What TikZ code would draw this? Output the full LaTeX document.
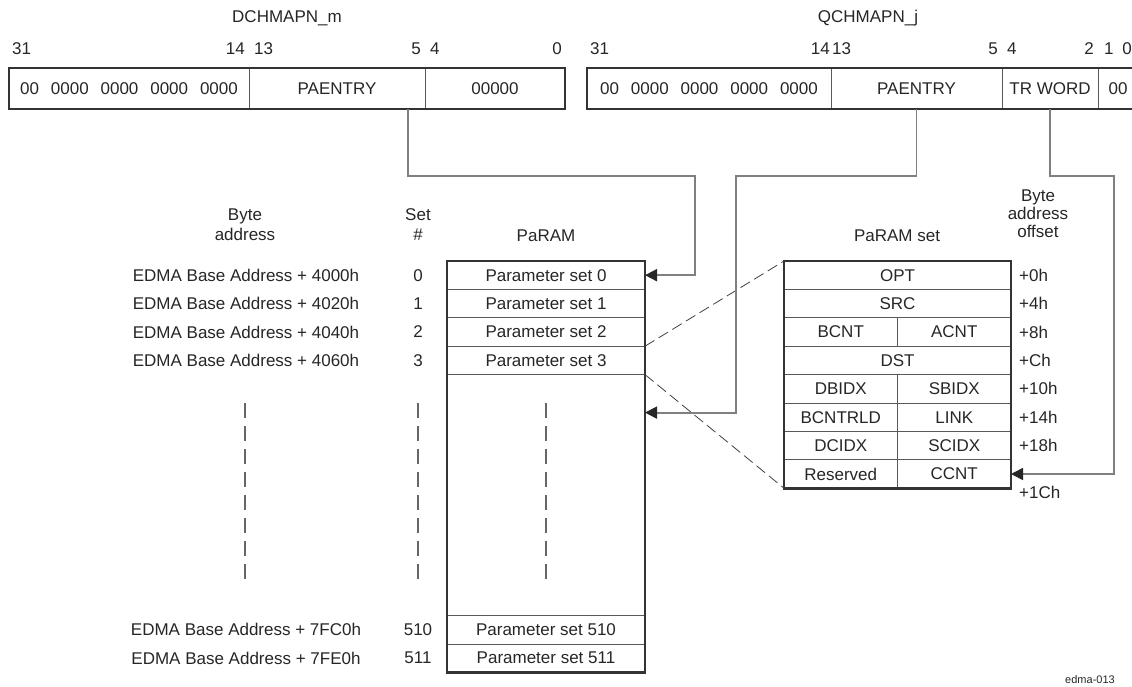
\documentclass[tikz,border=0pt]{standalone}
\usepackage{fontspec}
\setmainfont{Liberation Sans}
\usetikzlibrary{arrows.meta,positioning,calc}

\begin{document}
\begin{tikzpicture}[x=1pt,y=-1pt,
    font=\fontsize{17}{19}\selectfont,
    txt/.style={text=black!85, inner sep=0pt},
    field/.style={draw=black!65, line width=0.9pt, minimum height=41pt, inner sep=0pt,
        outer sep=0pt, text=black!85, anchor=north west},
    row/.style={draw=black!65, line width=0.9pt, minimum height=28.4pt, inner sep=0pt,
        outer sep=0pt, text=black!85, anchor=north west},
    wrow/.style={row, minimum width=227pt},
    hrow/.style={row, minimum width=113.5pt},
    outer/.style={draw=black!80, line width=2.6pt},
    link/.style={draw=black!50, line width=1.8pt},
    tip/.style={-{Triangle[length=12pt,width=12pt,color=black!85]}},
    guide/.style={draw=black!60, line width=1.1pt, dash pattern=on 15pt off 8pt},
    zoomline/.style={draw=black!75, line width=0.8pt, dash pattern=on 11pt off 5pt}
]
    \useasboundingbox (0,0) rectangle (1132,687);

    % DCHMAPN register
    \node[txt] (dname) at (287,18) {DCHMAPN\_m};
    \node[field, minimum width=240pt] (dzero) at (9,68)
        {00\hspace{0.7em}0000\hspace{0.7em}0000\hspace{0.7em}0000\hspace{0.7em}0000};
    \node[field, minimum width=176pt, right=0pt of dzero] (dpa) {PAENTRY};
    \node[field, minimum width=140pt, right=0pt of dpa] (dlow) {00000};
    \draw[outer] (dzero.north west) rectangle (dlow.south east);

    % bit numbers
    \node[txt, anchor=base west] (db31) at ($(dzero.north west)+(3,-13)$) {31};
    \node[txt, anchor=base east] (db14) at ($(dzero.north east)+(-4,-13)$) {14};
    \node[txt, anchor=base west] (db13) at ($(dpa.north west)+(5,-13)$) {13};
    \node[txt, anchor=base east] (db5) at ($(dpa.north east)+(-4,-13)$) {5};
    \node[txt, anchor=base west] (db4) at ($(dlow.north west)+(5,-13)$) {4};
    \node[txt, anchor=base east] (db0) at ($(dlow.north east)+(-3,-13)$) {0};

    % QCHMAPN register
    \node[txt] (qname) at (868,18) {QCHMAPN\_j};
    \node[field, minimum width=244pt] (qzero) at (587,68)
        {00\hspace{0.7em}0000\hspace{0.7em}0000\hspace{0.7em}0000\hspace{0.7em}0000};
    \node[field, minimum width=171pt, right=0pt of qzero] (qpa) {PAENTRY};
    \node[field, minimum width=96pt, right=0pt of qpa] (qtr) {TR WORD};
    \node[field, minimum width=44pt, right=0pt of qtr] (qlow) {\hspace{-4pt}00};
    \draw[outer] (qzero.north west) rectangle (qlow.south east);

    \node[txt, anchor=base west] (qb31) at ($(qzero.north west)+(3,-13)$) {31};
    \node[txt, anchor=base east] (qb14) at ($(qzero.north east)+(-1,-13)$) {14};
    \node[txt, anchor=base west] (qb13) at ($(qpa.north west)+(1,-13)$) {13};
    \node[txt, anchor=base east] (qb5) at ($(qpa.north east)+(-4,-13)$) {5};
    \node[txt, anchor=base west] (qb4) at ($(qtr.north west)+(5,-13)$) {4};
    \node[txt, anchor=base east] (qb2) at ($(qtr.north east)+(-4,-13)$) {2};
    \node[txt, anchor=base west] (qb1) at ($(qlow.north west)+(6,-13)$) {1};
    \node[txt, anchor=base east] (qb0) at ($(qlow.north east)+(-10,-13)$) {0};

    % PaRAM
    \node[txt] (pname) at (546,236) {PaRAM};
    \node[row, minimum width=198pt] (ps0) at (447,261) {Parameter set 0};
    \node[row, minimum width=198pt, below=0pt of ps0] (ps1) {Parameter set 1};
    \node[row, minimum width=198pt, below=0pt of ps1] (ps2) {Parameter set 2};
    \node[row, minimum width=198pt, below=0pt of ps2] (ps3) {Parameter set 3};
    \node[row, minimum width=198pt, minimum height=241pt, below=0pt of ps3] (psgap) {};
    \node[row, minimum width=198pt, below=0pt of psgap] (ps510) {Parameter set 510};
    \node[row, minimum width=198pt, below=0pt of ps510] (ps511) {Parameter set 511};
    \draw[outer] (ps0.north west) rectangle (ps511.south east);

    % addresses and set numbers
    \node[txt, align=center, font=\fontsize{17}{20}\selectfont] (bytehd) at (245,225) {Byte\\address};
    \node[txt, align=center, font=\fontsize{17}{20}\selectfont] (sethd) at (418,225) {Set\\\#};
    \coordinate (acol) at (246,0);
    \coordinate (scol) at (418,0);
    \foreach \i/\adr in {0/4000,1/4020,2/4040,3/4060,510/7FC0,511/7FE0} {
        \node[txt] (addr\i) at (ps\i -| acol) {EDMA Base Address + \adr h};
        \node[txt] (set\i) at (ps\i -| scol) {\i};
    }
    \draw[guide] (245,403) -- (245,586);
    \draw[guide] (418,403) -- (418,586);
    \draw[guide] (546,403) -- (546,586);

    % PaRAM set
    \node[txt] (sname) at (897,236) {PaRAM set};
    \node[txt, align=center, font=\fontsize{17}{18}\selectfont] (offhd) at (1038,214) {Byte\\address\\offset};
    \node[wrow] (opt) at (784,261) {OPT};
    \node[wrow, below=0pt of opt] (src) {SRC};
    \node[hrow, below right=0pt of src.south west] (bcnt) {BCNT};
    \node[hrow, right=0pt of bcnt] (acnt) {ACNT};
    \node[wrow, below right=0pt of bcnt.south west] (dst) {DST};
    \node[hrow, below right=0pt of dst.south west] (dbidx) {DBIDX};
    \node[hrow, right=0pt of dbidx] (sbidx) {SBIDX};
    \node[hrow, below right=0pt of dbidx.south west] (bcntrld) {BCNTRLD};
    \node[hrow, right=0pt of bcntrld] (link) {LINK};
    \node[hrow, below right=0pt of bcntrld.south west] (dcidx) {DCIDX};
    \node[hrow, right=0pt of dcidx] (scidx) {SCIDX};
    \node[hrow, below right=0pt of dcidx.south west] (rsvd) {Reserved};
    \node[hrow, right=0pt of rsvd] (ccnt) {CCNT};
    \draw[outer] (opt.north west) rectangle (ccnt.south east);

    % offsets
    \node[txt, anchor=west] (off0) at ($(opt.east)+(8,0)$) {+0h};
    \node[txt, anchor=west] (off4) at ($(src.east)+(8,0)$) {+4h};
    \node[txt, anchor=west] (off8) at ($(acnt.east)+(8,0)$) {+8h};
    \node[txt, anchor=west] (offC) at ($(dst.east)+(8,0)$) {+Ch};
    \node[txt, anchor=west] (off10) at ($(sbidx.east)+(8,0)$) {+10h};
    \node[txt, anchor=west] (off14) at ($(link.east)+(8,0)$) {+14h};
    \node[txt, anchor=west] (off18) at ($(scidx.east)+(8,0)$) {+18h};
    \node[txt, anchor=west] (off1C) at ($(ccnt.south east)+(8,4)$) {+1Ch};

    % zoom lines
    \draw[zoomline] (ps2.south east) -- (opt.north west);
    \draw[zoomline] (ps3.south east) -- (rsvd.south west);

    % entry links
    \draw[link, tip] ($(dpa.south east)+(-17,0)$) -- ++(0,67) -| ($(ps0.east)+(50,0)$) -- (ps0.east);
    \draw[link, tip] (qpa.south) -- ++(0,67) -| ($(psgap.north east)+(91,38)$) -- ($(psgap.north east)+(0,38)$);
    \draw[link, tip] (qtr.south) -- ++(0,67) -| ($(ccnt.east)+(103,0)$) -- (ccnt.east);

    \node[txt, font=\fontsize{11}{12}\selectfont] (figid) at (1090,680) {edma-013};
\end{tikzpicture}
\end{document}
